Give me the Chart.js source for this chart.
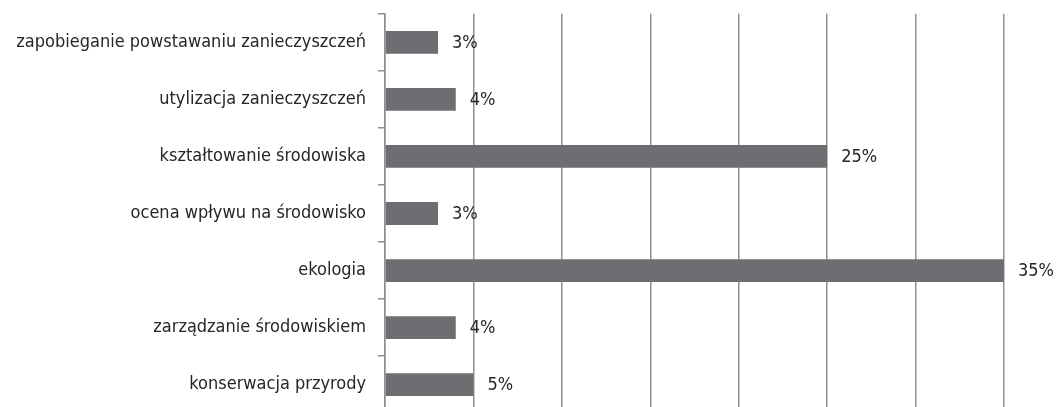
<!DOCTYPE html>
<html>
<head>
<meta charset="utf-8">
<script src="https://cdn.jsdelivr.net/npm/chart.js@4.4.1/dist/chart.umd.min.js"></script>
<style>
  html, body { margin: 0; padding: 0; background: #fff; overflow: hidden; }
  #wrap { position: absolute; left: 0; top: -9px; width: 1056px; height: 445px; }
</style>
</head>
<body>
<div id="wrap"><canvas id="chart"></canvas></div>
<script>
const categories = [
  "zapobieganie powstawaniu zanieczyszczeń",
  "utylizacja zanieczyszczeń",
  "kształtowanie środowiska",
  "ocena wpływu na środowisko",
  "ekologia",
  "zarządzanie środowiskiem",
  "konserwacja przyrody",
];
const shares = [3, 4, 25, 3, 35, 4, 5];
const xMax = 35;
const xStep = 5;

const FONT = "'Liberation Sans Narrow', 'DejaVu Sans Condensed', 'Roboto Condensed', sans-serif";
const GRID = "#8f8f8f";
const TEXT = "#262626";

// value labels just past the end of each bar
const valueLabels = {
  id: "valueLabels",
  afterDatasetsDraw(chart) {
    const ctx = chart.ctx;
    const meta = chart.getDatasetMeta(0);
    ctx.save();
    ctx.font = "18px " + FONT;
    ctx.fillStyle = TEXT;
    ctx.textAlign = "left";
    ctx.textBaseline = "middle";
    meta.data.forEach((bar, i) => {
      ctx.fillText(shares[i] + "%", bar.x + 14, bar.y + 1);
    });
    ctx.restore();
  },
};

new Chart(document.getElementById("chart"), {
  type: "bar",
  data: {
    labels: categories,
    datasets: [{
      data: shares,
      backgroundColor: "#6d6e71",
      borderWidth: 0,
      categoryPercentage: 1,
      barPercentage: 0.4,
    }],
  },
  options: {
    indexAxis: "y",
    responsive: true,
    maintainAspectRatio: false,
    animation: false,
    layout: { padding: { top: 5, right: 52, bottom: 0, left: 0 } },
    plugins: { legend: { display: false }, tooltip: { enabled: false } },
    scales: {
      x: {
        min: 0,
        max: xMax,
        ticks: { display: false, stepSize: xStep },
        grid: { color: GRID, lineWidth: 1.5, drawTicks: false },
        border: { display: false },
        afterFit: (s) => { s.height = 0; },
      },
      y: {
        ticks: { color: TEXT, font: { family: FONT, size: 18 }, padding: 12 },
        grid: { drawOnChartArea: false, color: GRID, lineWidth: 1.5, tickLength: 7, offset: true },
        border: { display: true, color: GRID, width: 1.5 },
        afterFit: (s) => { s.width = 385; },
      },
    },
  },
  plugins: [valueLabels],
});
</script>
</body>
</html>
